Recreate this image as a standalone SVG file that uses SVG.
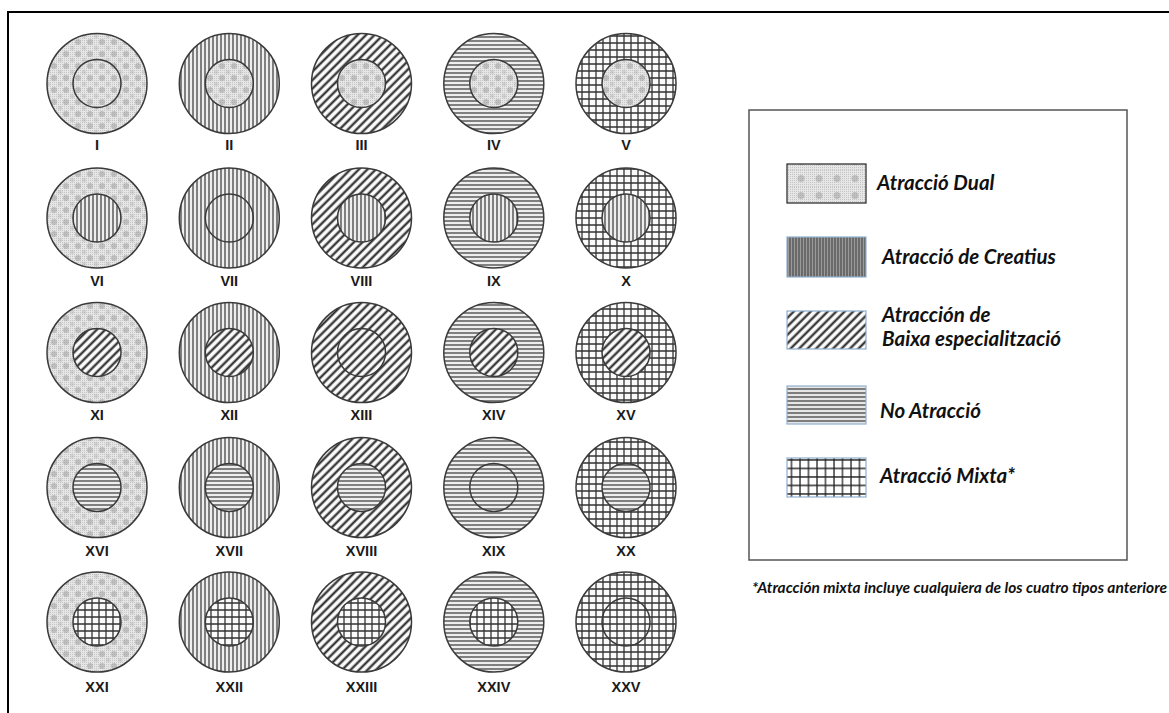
<svg xmlns="http://www.w3.org/2000/svg" width="1169" height="713" viewBox="0 0 1169 713">
<defs>
<pattern id="fine" width="2" height="2" patternUnits="userSpaceOnUse"><rect width="2" height="2" fill="#e6e6e6"/><rect width="1" height="1" fill="#c6c6c6"/></pattern>
<pattern id="dual" width="12" height="12" patternUnits="userSpaceOnUse"><rect width="12" height="12" fill="url(#fine)"/><circle cx="6" cy="6" r="3" fill="#9a9a9a" opacity="0.5"/><circle cx="0" cy="0" r="2.2" fill="#a8a8a8" opacity="0.35"/><circle cx="12" cy="0" r="2.2" fill="#a8a8a8" opacity="0.35"/><circle cx="0" cy="12" r="2.2" fill="#a8a8a8" opacity="0.35"/><circle cx="12" cy="12" r="2.2" fill="#a8a8a8" opacity="0.35"/></pattern>
<pattern id="vert" width="4" height="4" patternUnits="userSpaceOnUse"><rect width="4" height="4" fill="#eeeeee"/><line x1="1" y1="0" x2="1" y2="4" stroke="#444" stroke-width="1.3"/></pattern>
<pattern id="diag" width="6" height="6" patternUnits="userSpaceOnUse" patternTransform="rotate(45)"><rect width="6" height="6" fill="#fafafa"/><rect x="0.5" y="0" width="2.1" height="6" fill="#222"/></pattern>
<pattern id="horiz" width="4" height="4" patternUnits="userSpaceOnUse"><rect width="4" height="4" fill="#eeeeee"/><line x1="0" y1="1" x2="4" y2="1" stroke="#444" stroke-width="1.3"/></pattern>
<pattern id="grid" width="7" height="7" patternUnits="userSpaceOnUse"><rect width="7" height="7" fill="#fafafa"/><path d="M1 0V7M0 1H7" stroke="#333" stroke-width="1.3" fill="none"/></pattern>
<pattern id="vertL" width="3" height="3" patternUnits="userSpaceOnUse"><rect width="3" height="3" fill="#9a9a9a"/><line x1="1" y1="0" x2="1" y2="3" stroke="#4a4a4a" stroke-width="1.2"/></pattern>
<pattern id="horizL" width="4" height="4" patternUnits="userSpaceOnUse"><rect width="4" height="4" fill="#e6e6e6"/><line x1="0" y1="1" x2="4" y2="1" stroke="#444" stroke-width="1.3"/></pattern>
<pattern id="gridL" width="8.5" height="8.5" patternUnits="userSpaceOnUse"><rect width="8.5" height="8.5" fill="#fff"/><path d="M1 0V8.5M0 1H8.5" stroke="#222" stroke-width="1.3" fill="none"/></pattern>
<pattern id="dualL" width="18" height="17" patternUnits="userSpaceOnUse"><rect width="18" height="17" fill="url(#fine)"/><circle cx="9" cy="8.5" r="3.5" fill="#9a9a9a" opacity="0.5"/></pattern>
</defs>
<style>
.o{stroke:#3a3a3a;stroke-width:1.5}
.i{stroke:#3a3a3a;stroke-width:1.5}
.lbl{font-family:"Liberation Sans",Arial,sans-serif;font-weight:bold;font-size:14.5px;fill:#1a1a1a;text-anchor:middle}
.leg{font-family:Lato,"Open Sans",sans-serif;font-weight:bold;font-style:italic;font-size:20.5px;fill:#111}
.sw{stroke:#8fb0d0;stroke-width:1.2}
.note{font-family:Lato,"Open Sans",sans-serif;font-weight:bold;font-style:italic;font-size:15.5px;fill:#111}
</style>
<rect x="8" y="12" width="1200" height="760" fill="#fff" stroke="#000" stroke-width="2"/>
<g id="c1"><circle class="o" cx="97" cy="83.5" r="50" fill="url(#dual)"/><circle class="i" cx="97" cy="83.5" r="24" fill="url(#dual)"/><text class="lbl" x="97" y="150">I</text></g>
<g id="c2"><circle class="o" cx="229.3" cy="83.5" r="50" fill="url(#vert)"/><circle class="i" cx="229.3" cy="83.5" r="24" fill="url(#dual)"/><text class="lbl" x="229.3" y="150">II</text></g>
<g id="c3"><circle class="o" cx="361.5" cy="83.5" r="50" fill="url(#diag)"/><circle class="i" cx="361.5" cy="83.5" r="24" fill="url(#dual)"/><text class="lbl" x="361.5" y="150">III</text></g>
<g id="c4"><circle class="o" cx="493.8" cy="83.5" r="50" fill="url(#horiz)"/><circle class="i" cx="493.8" cy="83.5" r="24" fill="url(#dual)"/><text class="lbl" x="493.8" y="150">IV</text></g>
<g id="c5"><circle class="o" cx="626" cy="83.5" r="50" fill="url(#grid)"/><circle class="i" cx="626" cy="83.5" r="24" fill="url(#dual)"/><text class="lbl" x="626" y="150">V</text></g>
<g id="c6"><circle class="o" cx="97" cy="218" r="50" fill="url(#dual)"/><circle class="i" cx="97" cy="218" r="24" fill="url(#vert)"/><text class="lbl" x="97" y="286">VI</text></g>
<g id="c7"><circle class="o" cx="229.3" cy="218" r="50" fill="url(#vert)"/><circle class="i" cx="229.3" cy="218" r="24" fill="url(#vert)"/><text class="lbl" x="229.3" y="286">VII</text></g>
<g id="c8"><circle class="o" cx="361.5" cy="218" r="50" fill="url(#diag)"/><circle class="i" cx="361.5" cy="218" r="24" fill="url(#vert)"/><text class="lbl" x="361.5" y="286">VIII</text></g>
<g id="c9"><circle class="o" cx="493.8" cy="218" r="50" fill="url(#horiz)"/><circle class="i" cx="493.8" cy="218" r="24" fill="url(#vert)"/><text class="lbl" x="493.8" y="286">IX</text></g>
<g id="c10"><circle class="o" cx="626" cy="218" r="50" fill="url(#grid)"/><circle class="i" cx="626" cy="218" r="24" fill="url(#vert)"/><text class="lbl" x="626" y="286">X</text></g>
<g id="c11"><circle class="o" cx="97" cy="352.5" r="50" fill="url(#dual)"/><circle class="i" cx="97" cy="352.5" r="24" fill="url(#diag)"/><text class="lbl" x="97" y="420">XI</text></g>
<g id="c12"><circle class="o" cx="229.3" cy="352.5" r="50" fill="url(#vert)"/><circle class="i" cx="229.3" cy="352.5" r="24" fill="url(#diag)"/><text class="lbl" x="229.3" y="420">XII</text></g>
<g id="c13"><circle class="o" cx="361.5" cy="352.5" r="50" fill="url(#diag)"/><circle class="i" cx="361.5" cy="352.5" r="24" fill="url(#diag)"/><text class="lbl" x="361.5" y="420">XIII</text></g>
<g id="c14"><circle class="o" cx="493.8" cy="352.5" r="50" fill="url(#horiz)"/><circle class="i" cx="493.8" cy="352.5" r="24" fill="url(#diag)"/><text class="lbl" x="493.8" y="420">XIV</text></g>
<g id="c15"><circle class="o" cx="626" cy="352.5" r="50" fill="url(#grid)"/><circle class="i" cx="626" cy="352.5" r="24" fill="url(#diag)"/><text class="lbl" x="626" y="420">XV</text></g>
<g id="c16"><circle class="o" cx="97" cy="487.5" r="50" fill="url(#dual)"/><circle class="i" cx="97" cy="487.5" r="24" fill="url(#horiz)"/><text class="lbl" x="97" y="556">XVI</text></g>
<g id="c17"><circle class="o" cx="229.3" cy="487.5" r="50" fill="url(#vert)"/><circle class="i" cx="229.3" cy="487.5" r="24" fill="url(#horiz)"/><text class="lbl" x="229.3" y="556">XVII</text></g>
<g id="c18"><circle class="o" cx="361.5" cy="487.5" r="50" fill="url(#diag)"/><circle class="i" cx="361.5" cy="487.5" r="24" fill="url(#horiz)"/><text class="lbl" x="361.5" y="556">XVIII</text></g>
<g id="c19"><circle class="o" cx="493.8" cy="487.5" r="50" fill="url(#horiz)"/><circle class="i" cx="493.8" cy="487.5" r="24" fill="url(#horiz)"/><text class="lbl" x="493.8" y="556">XIX</text></g>
<g id="c20"><circle class="o" cx="626" cy="487.5" r="50" fill="url(#grid)"/><circle class="i" cx="626" cy="487.5" r="24" fill="url(#horiz)"/><text class="lbl" x="626" y="556">XX</text></g>
<g id="c21"><circle class="o" cx="97" cy="622" r="50" fill="url(#dual)"/><circle class="i" cx="97" cy="622" r="24" fill="url(#grid)"/><text class="lbl" x="97" y="692">XXI</text></g>
<g id="c22"><circle class="o" cx="229.3" cy="622" r="50" fill="url(#vert)"/><circle class="i" cx="229.3" cy="622" r="24" fill="url(#grid)"/><text class="lbl" x="229.3" y="692">XXII</text></g>
<g id="c23"><circle class="o" cx="361.5" cy="622" r="50" fill="url(#diag)"/><circle class="i" cx="361.5" cy="622" r="24" fill="url(#grid)"/><text class="lbl" x="361.5" y="692">XXIII</text></g>
<g id="c24"><circle class="o" cx="493.8" cy="622" r="50" fill="url(#horiz)"/><circle class="i" cx="493.8" cy="622" r="24" fill="url(#grid)"/><text class="lbl" x="493.8" y="692">XXIV</text></g>
<g id="c25"><circle class="o" cx="626" cy="622" r="50" fill="url(#grid)"/><circle class="i" cx="626" cy="622" r="24" fill="url(#grid)"/><text class="lbl" x="626" y="692">XXV</text></g>
<g id="legend">
<rect x="749" y="110" width="378" height="450" fill="#fff" stroke="#555" stroke-width="1.5"/>
<g id="leg-dual"><rect x="787" y="164" width="79" height="39" fill="url(#dualL)" stroke="#222" stroke-width="1.2"/><text class="leg" x="877" y="190">Atracció Dual</text></g>
<g id="leg-creatius"><rect class="sw" x="787" y="237" width="79" height="40" fill="url(#vertL)"/><text class="leg" x="882" y="264">Atracció de Creatius</text></g>
<g id="leg-baixa"><rect class="sw" x="787" y="311" width="79" height="38" fill="url(#diag)"/><text class="leg" x="882" y="322">Atracción de</text><text class="leg" x="882" y="346">Baixa especialització</text></g>
<g id="leg-no"><rect class="sw" x="787" y="386" width="79" height="38" fill="url(#horizL)"/><text class="leg" x="880" y="418">No Atracció</text></g>
<g id="leg-mixta"><rect class="sw" x="787" y="458" width="79" height="39" fill="url(#gridL)"/><text class="leg" x="880" y="483">Atracció Mixta*</text></g>
</g>
<text class="note" x="752" y="593">*Atracción mixta incluye cualquiera de los cuatro tipos anteriore</text>
</svg>
